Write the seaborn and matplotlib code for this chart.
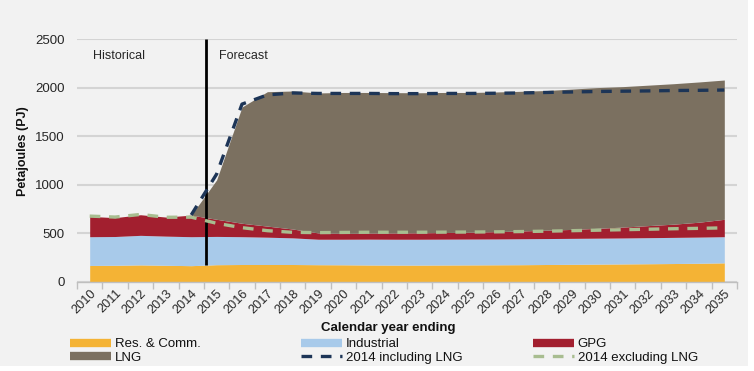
import numpy as np
import pandas as pd
import matplotlib
matplotlib.use("Agg")
import matplotlib.pyplot as plt
from matplotlib.lines import Line2D
from matplotlib.patches import Rectangle
import seaborn as sns

years = list(range(2010, 2036))
res_comm = [170, 172, 176, 172, 168, 178, 180, 180, 180, 178, 177, 175, 174,
            174, 175, 176, 177, 178, 180, 182, 184, 186, 188, 190, 193, 197]
industrial = [296, 296, 304, 300, 298, 291, 286, 281, 274, 262, 263, 266, 266,
              266, 266, 266, 266, 267, 267, 267, 267, 267, 268, 269, 269, 269]
gpg = [209, 194, 212, 196, 222, 176, 138, 114, 91, 65, 60, 62, 64,
       66, 68, 70, 75, 80, 86, 92, 101, 112, 124, 136, 153, 179]
lng = [0, 0, 0, 0, 0, 405, 1196, 1383, 1420, 1440, 1450, 1447, 1444,
       1441, 1441, 1438, 1437, 1437, 1437, 1444, 1448, 1445, 1445, 1445, 1443, 1433]
incl_lng_2014 = [np.nan, np.nan, np.nan, np.nan, 690, 1110, 1830, 1925, 1945, 1940,
                 1940, 1940, 1938, 1938, 1940, 1940, 1942, 1945, 1950, 1955,
                 1960, 1963, 1966, 1970, 1972, 1975]
excl_lng_2014 = [678, 668, 695, 666, 667, 604, 559, 528, 511, 508, 510, 512, 512,
                 512, 513, 514, 516, 519, 523, 528, 533, 538, 543, 548, 552, 557]

colors = {'Res. & Comm.': '#f4b335', 'Industrial': '#a8caea', 'GPG': '#a21f2f',
          'LNG': '#7b7060', '2014 including LNG': '#1d3557',
          '2014 excluding LNG': '#a8bd90'}

sns.set_theme(style="whitegrid")
plt.rcParams['font.family'] = ['Liberation Sans', 'DejaVu Sans']
bg = '#f2f2f2'

df = pd.DataFrame({'Year': years, 'Res. & Comm.': res_comm, 'Industrial': industrial,
                   'GPG': gpg, 'LNG': lng, '2014 including LNG': incl_lng_2014,
                   '2014 excluding LNG': excl_lng_2014})
df['pos'] = np.arange(len(df))

fig = plt.figure(figsize=(7.54, 3.71), dpi=100)
fig.patch.set_facecolor('white')
fig.add_artist(Rectangle((0, 5 / 371), 748 / 754, 1, transform=fig.transFigure,
                         facecolor=bg, edgecolor='none', zorder=-10))
ax = fig.add_axes([77 / 754, 1 - 282 / 371, 660 / 754, 243 / 371])
ax.set_facecolor(bg)

areas = ['Res. & Comm.', 'Industrial', 'GPG', 'LNG']
ax.stackplot(df['pos'], *[df[a] for a in areas], colors=[colors[a] for a in areas],
             lw=0, zorder=2)

# forecast divider
ax.vlines(4.6, df['Res. & Comm.'].iloc[5], 2500, color='black', lw=2, zorder=3)

sns.lineplot(data=df, x='pos', y='2014 excluding LNG', ax=ax, color=colors['2014 excluding LNG'],
             lw=2.4, linestyle=(0, (3.2, 2.6)), zorder=4)
sns.lineplot(data=df, x='pos', y='2014 including LNG', ax=ax, color=colors['2014 including LNG'],
             lw=2.4, linestyle=(0, (3.2, 2.6)), zorder=5)

ax.text(0.13, 2330, 'Historical', va='center', ha='left', fontsize=9, color='#262626')
ax.text(5.09, 2330, 'Forecast', va='center', ha='left', fontsize=9, color='#262626')

ax.set_xlim(-0.5, len(years) - 0.5)
ax.set_ylim(0, 2500)
ax.set_yticks(range(0, 2501, 500))
ax.tick_params(axis='y', length=0, pad=9, labelsize=9.5, labelcolor='#262626')
ax.set_xticks(df['pos'])
ax.set_xticklabels(years, rotation=45, ha='right', rotation_mode='anchor',
                   fontsize=9.2, color='#262626')
ax.set_xticks(np.arange(-0.5, len(years)), minor=True)
ax.tick_params(axis='x', which='major', length=0, pad=4)
ax.tick_params(axis='x', which='minor', bottom=True, length=5, width=1,
               color='#bfbfbf', direction='out')
ax.grid(axis='x', visible=False)
ax.grid(axis='y', color='#d4d4d4', lw=1.5)
ax.grid(which='minor', visible=False)
for s in ['left', 'right', 'top']:
    ax.spines[s].set_visible(False)
ax.spines['bottom'].set_color('#bfbfbf')
ax.spines['bottom'].set_linewidth(1)

ax.set_ylabel('Petajoules (PJ)', fontweight='bold', fontsize=9, color='#111111')
ax.yaxis.set_label_coords(-0.073, 0.54)
ax.set_xlabel('Calendar year ending', fontweight='bold', fontsize=9.5, color='#111111')
ax.xaxis.set_label_coords((388 - 77) / 660, -0.165)


def handle(name):
    if 'LNG' in name and name != 'LNG':
        return Line2D([], [], color=colors[name], lw=2.4, linestyle=(0, (3.2, 2.6)))
    return Line2D([], [], color=colors[name], lw=6, solid_capstyle='butt')


columns = [(70, ['Res. & Comm.', 'LNG']), (301, ['Industrial', '2014 including LNG']),
           (533, ['GPG', '2014 excluding LNG'])]
for xpix, names in columns:
    leg = fig.legend([handle(n) for n in names], names, loc='center left',
                     bbox_to_anchor=(xpix / 754, 1 - 351 / 371), frameon=False,
                     fontsize=9.5, handlelength=3.1, handletextpad=0.3,
                     borderpad=0, borderaxespad=0, labelspacing=0.12)
    for t in leg.get_texts():
        t.set_color('#111111')

fig.savefig('out.png', dpi=100, facecolor=fig.get_facecolor())
